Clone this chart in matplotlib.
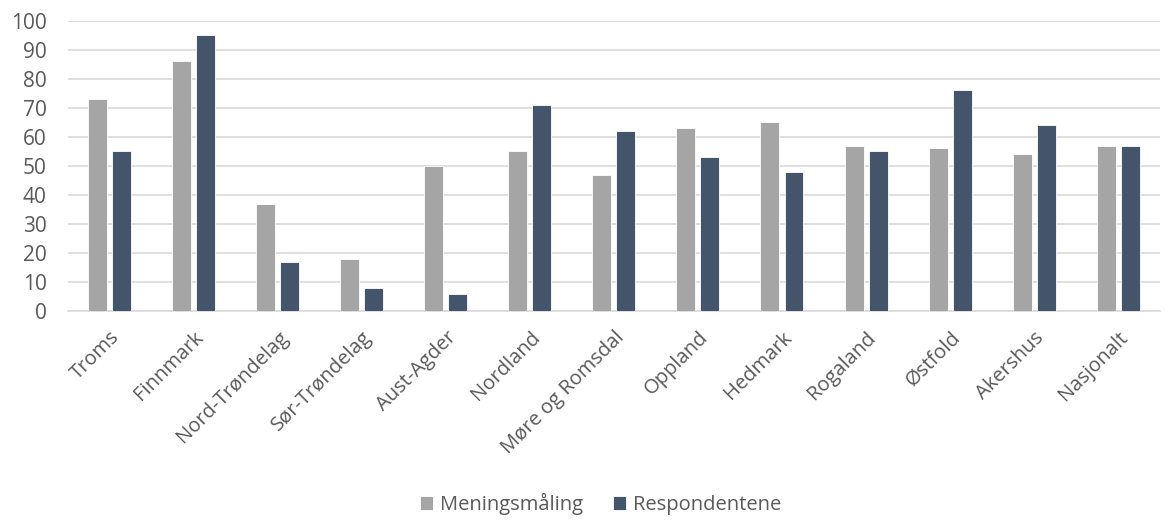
import matplotlib
matplotlib.use("Agg")
import matplotlib.pyplot as plt
import numpy as np

categories = ["Troms", "Finnmark", "Nord-Trøndelag", "Sør-Trøndelag", "Aust-Agder",
              "Nordland", "Møre og Romsdal", "Oppland", "Hedmark", "Rogaland",
              "Østfold", "Akershus", "Nasjonalt"]
meningsmaling = [73, 86, 37, 18, 50, 55, 47, 63, 65, 57, 56, 54, 57]
respondentene = [55, 95, 17, 8, 6, 71, 62, 53, 48, 55, 76, 64, 57]
series_names = ["Meningsmåling", "Respondentene"]
yticks = list(range(0, 101, 10))

plt.rcParams['font.family'] = ['Open Sans', 'DejaVu Sans']
text_color = "#595959"
fs = 14.5

fig = plt.figure(figsize=(11.66, 5.2), dpi=100)
ax = fig.add_axes([0.058, 0.402, 0.937, 0.558])

x = np.arange(len(categories))
w = 0.226
off = 0.143
ax.bar(x - off, meningsmaling, width=w, color="#A5A5A5", edgecolor="white", linewidth=0.6,
       label=series_names[0], zorder=3)
ax.bar(x + off, respondentene, width=w, color="#44546A", edgecolor="white", linewidth=0.6,
       label=series_names[1], zorder=3)

ax.set_xlim(-0.5, len(categories) - 0.5)
ax.set_ylim(0, 100)
ax.set_yticks(yticks)
ax.set_yticklabels([str(t) for t in yticks], fontsize=fs + 0.5, color=text_color)
ax.grid(axis="y", color="#D9D9D9", linewidth=1.2, zorder=0)
ax.set_xticks(x)
ax.set_xticklabels(categories, rotation=45, ha="right", rotation_mode="anchor",
                   fontsize=fs, color=text_color)
ax.tick_params(axis="y", length=0, pad=15)
ax.tick_params(axis="x", length=0, pad=12)
for s in ["top", "right", "left"]:
    ax.spines[s].set_visible(False)
ax.spines["bottom"].set_color("#D9D9D9")
ax.spines["bottom"].set_linewidth(1.2)

leg = fig.legend(loc="lower center", bbox_to_anchor=(0.515, -0.025), ncol=2, frameon=False,
                 fontsize=fs, handlelength=0.65, handleheight=0.65, handletextpad=0.35,
                 columnspacing=1.5)
for t in leg.get_texts():
    t.set_color(text_color)

fig.savefig("out.png", dpi=100)
